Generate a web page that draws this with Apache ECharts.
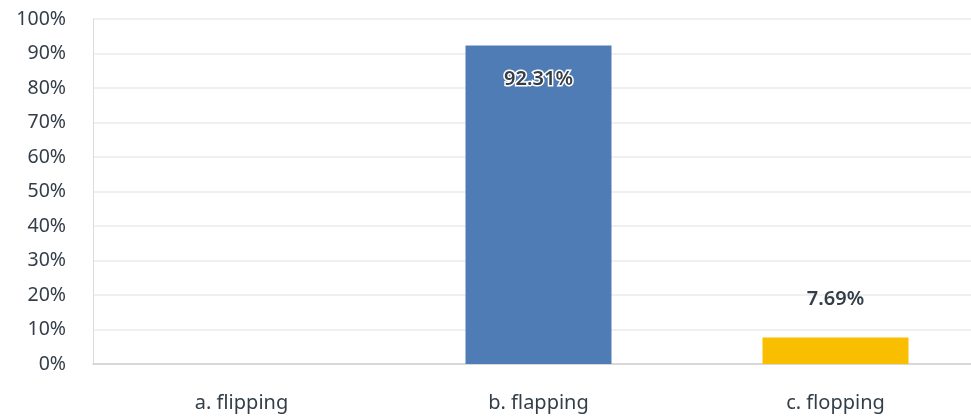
<!DOCTYPE html>
<html><head><meta charset="utf-8">
<script src="https://cdn.jsdelivr.net/npm/echarts@6/dist/echarts.min.js"></script>
<style>html,body{margin:0;padding:0;background:#fff}#c{width:971px;height:418px}</style>
</head><body><div id="c"></div>
<script>
const categories = ['a. flipping', 'b. flapping', 'c. flopping'];
const values = [0, 92.31, 7.69];
const colors = ['#507cb6', '#507cb6', '#f9be00'];
const labelPositions = ['insideTop', 'insideTop', 'top'];

const chart = echarts.init(document.getElementById('c'));
chart.setOption({
  animation: false,
  grid: { left: 93, top: 19, width: 891, height: 345, outerBoundsMode: 'none', containLabel: false },
  xAxis: {
    type: 'category', data: categories,
    axisLine: { lineStyle: { color: '#cfcfcf', width: 1.5 } },
    axisTick: { show: false },
    axisLabel: { color: '#333e48', fontSize: 20, fontFamily: 'Noto Sans', margin: 29 }
  },
  yAxis: {
    type: 'value', min: 0, max: 100, interval: 10,
    axisLine: { show: true, lineStyle: { color: '#dcdcdc' } },
    splitLine: { lineStyle: { color: '#ebebeb', width: 1.5 } },
    axisLabel: { color: '#333e48', fontSize: 19.5, fontFamily: 'Noto Sans', margin: 27, formatter: '{value}%' }
  },
  series: [{
    type: 'bar', barWidth: 146,
    data: values.map((v, i) => ({
      value: v,
      itemStyle: { color: colors[i] },
      label: {
        show: v > 0, position: labelPositions[i],
        distance: labelPositions[i] === 'top' ? 28 : 24,
        formatter: p => p.value.toFixed(2) + '%',
        color: '#333e48', fontSize: 20, fontWeight: 600, fontFamily: 'Noto Sans',
        textBorderColor: labelPositions[i] === 'top' ? 'transparent' : '#fff',
        textBorderWidth: labelPositions[i] === 'top' ? 0 : 3
      }
    }))
  }]
});
</script></body></html>
